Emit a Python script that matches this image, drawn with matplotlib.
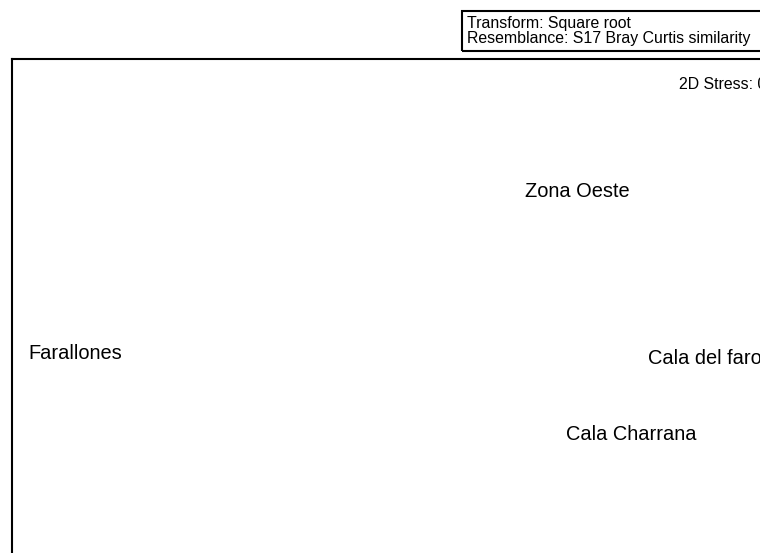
import numpy as np
import matplotlib
matplotlib.use("Agg")
import matplotlib.pyplot as plt
from matplotlib.patches import Rectangle

plt.rcParams['font.family'] = ['Liberation Sans', 'DejaVu Sans']

# nMDS configuration (arbitrary MDS units)
sites = ["Zona Oeste", "Farallones", "Cala del faro", "Cala Charrana"]
mds_x = [0.487, -0.834, 0.823, 0.630]
mds_y = [0.473, -0.163, -0.183, -0.483]

transform_txt = "Transform: Square root"
resemblance_txt = "Resemblance: S17 Bray Curtis similarity"
stress_txt = "2D Stress: 0"

W, H = 760, 553
fig = plt.figure(figsize=(W / 100, H / 100), dpi=100)

# plot frame runs off the right and bottom of the picture
left_px, right_px, top_px, bottom_px = 12, 772, 58.5, 565
ax = fig.add_axes([left_px / W, 1 - bottom_px / H,
                   (right_px - left_px) / W, (bottom_px - top_px) / H])
ax.set_xlim(-1, 1)
ax.set_ylim(-1, 1)
ax.set_xticks([])
ax.set_yticks([])
for s in ax.spines.values():
    s.set_linewidth(1.5)
    s.set_color('black')

for name, x, y in zip(sites, mds_x, mds_y):
    ax.text(x, y, name, ha='center', va='center', fontsize=14.4, color='black')

# info box at the top right
box = Rectangle((462 / W, 1 - 50.7 / H), (820 - 462) / W, 40 / H,
                transform=fig.transFigure, fill=False, lw=1.5, ec='black')
fig.patches.append(box)
fig.text(467 / W, 1 - 28.3 / H, transform_txt, fontsize=11.4, va='baseline')
fig.text(467 / W, 1 - 42.5 / H, resemblance_txt, fontsize=11.4, va='baseline')

# stress label is cut by the right edge, as in the original export
fig.text(679 / W, 1 - 89 / H, stress_txt, fontsize=11.4, va='baseline')

fig.savefig("out.png", dpi=100)
